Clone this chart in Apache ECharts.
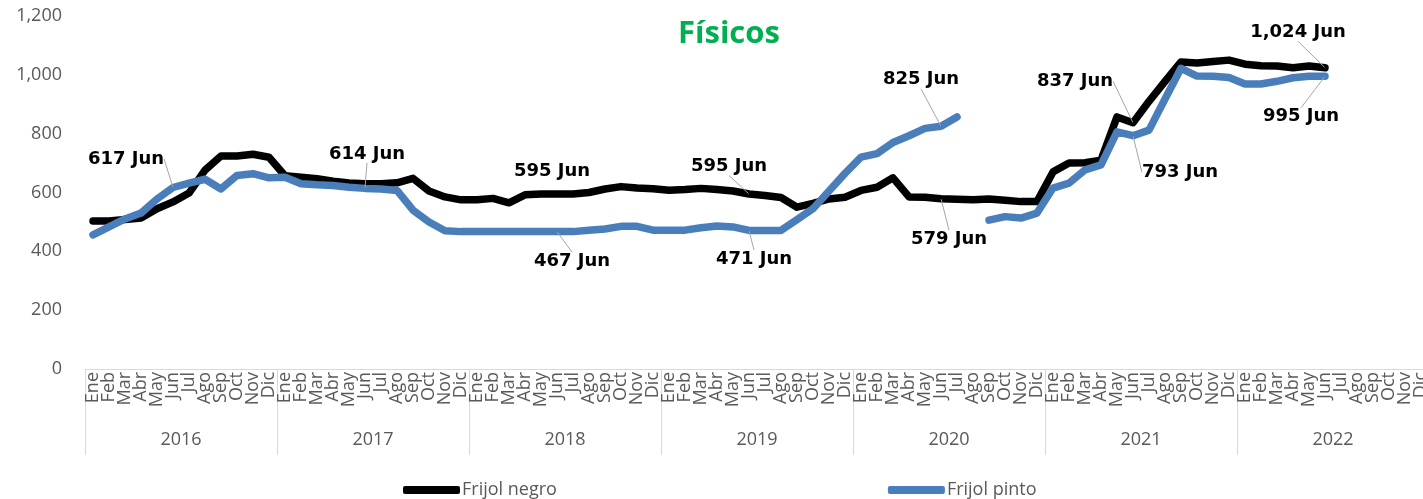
<!DOCTYPE html>
<html>
<head>
<meta charset="utf-8">
<script src="https://cdn.jsdelivr.net/npm/echarts@6/dist/echarts.min.js"></script>
<style>
  html, body { margin: 0; padding: 0; background: #fff; }
  #main { width: 1423px; height: 499px; }
</style>
</head>
<body>
<div id="main"></div>
<script>
var years = ['2016', '2017', '2018', '2019', '2020', '2021', '2022'];
var monthNames = ['Ene', 'Feb', 'Mar', 'Abr', 'May', 'Jun', 'Jul', 'Ago', 'Sep', 'Oct', 'Nov', 'Dic'];
var yTicks = [0, 200, 400, 600, 800, 1000, 1200];

// Frijol negro, monthly, Ene 2016 .. Dic 2022
var negro = [
  503, 503, 508, 513, 545, 568, 598, 676, 724, 724, 730, 720,
  657, 652, 647, 638, 632, 630, 630, 633, 648, 605, 585, 575,
  575, 580, 565, 592, 595, 595, 595, 600, 612, 620, 615, 613,
  608, 610, 614, 610, 605, 595, 590, 583, 550, 563, 578, 584,
  607, 618, 650, 585, 584, 579, 577, 575, 578, 574, 569, 569,
  670, 700, 701, 710, 857, 837, 910, 978, 1044, 1040, 1045, 1050,
  1036, 1031, 1030, 1024, 1030, 1024, null, null, null, null, null, null
];
// Frijol pinto
var pinto = [
  456, 483, 510, 530, 578, 617, 632, 645, 612, 658, 664, 650,
  652, 630, 626, 624, 618, 614, 612, 607, 540, 500, 470, 467,
  467, 467, 467, 467, 467, 467, 467, 472, 476, 485, 485, 472,
  472, 472, 480, 486, 483, 471, 471, 471, 508, 545, 605, 665,
  720, 732, 770, 793, 818, 825, 857, null, 506, 518, 513, 530,
  615, 632, 677, 694, 806, 793, 812, 918, 1022, 996, 995, 991,
  969, 969, 978, 990, 995, 995, null, null, null, null, null, null
];

// which points carry a "Jun" label: [label side, dx, dy, leader line]
var negroLabels = {
  29: ['top', -5, -8, false],
  41: ['top', -20, -13, true],
  53: ['bottom', 8, 26, true],
  65: ['top', -58, -27, true],
  77: ['top', -27, -21, true]
};
var pintoLabels = {
  5: ['top', -47, -14, true],
  17: ['top', 2, -20, true],
  29: ['bottom', 15, 15, true],
  41: ['bottom', 5, 14, true],
  53: ['top', -20, -32, true],
  65: ['bottom', 47, 22, true],
  77: ['bottom', -24, 26, true]
};

var months = [];
years.forEach(function () { months = months.concat(monthNames); });

function fmt(v) {
  return String(v).replace(/\B(?=(\d{3})+(?!\d))/g, ',');
}

function buildData(values, labels) {
  return values.map(function (v, i) {
    var l = labels[i];
    if (!l || v == null) return v;
    return {
      value: v,
      label: { show: true, position: l[0], formatter: fmt(v) + ' Jun' },
      labelLine: { show: l[3] }
    };
  });
}

function layoutFor(labels) {
  return function (params) {
    var l = labels[params.dataIndex];
    return l ? { dx: l[1], dy: l[2] } : {};
  };
}

var chart = echarts.init(document.getElementById('main'));

var labelStyle = {
  color: '#000',
  fontWeight: 'bold',
  fontSize: 18,
  fontFamily: 'DejaVu Sans'
};
var leader = { lineStyle: { color: '#a6a6a6', width: 1 } };

var option = {
  animation: false,
  backgroundColor: '#fff',
  title: {
    text: 'Físicos',
    left: 673,
    top: 14,
    textStyle: { color: '#00b050', fontSize: 31, fontWeight: 'bold', fontFamily: 'Open Sans' }
  },
  legend: {
    data: [
      { name: 'Frijol negro', icon: 'roundRect' },
      { name: 'Frijol pinto', icon: 'roundRect' }
    ],
    left: 398,
    top: 476,
    itemWidth: 57,
    itemHeight: 8,
    itemGap: 331,
    textStyle: { color: '#595959', fontSize: 18, fontFamily: 'Open Sans', padding: [0, 0, 0, -3] }
  },
  grid: {
    left: 85,
    top: 16,
    width: 1344,
    height: 353,
    containLabel: false,
    outerBoundsMode: 'none'
  },
  xAxis: [
    {
      type: 'category',
      data: months,
      boundaryGap: true,
      axisLine: { lineStyle: { color: '#d9d9d9', width: 1 } },
      axisTick: { show: false },
      axisLabel: {
        interval: 0,
        rotate: 90,
        margin: 3,
        color: '#595959',
        fontSize: 18,
        fontFamily: 'Open Sans'
      }
    },
    {
      type: 'category',
      data: years,
      position: 'bottom',
      boundaryGap: true,
      axisLine: { show: false },
      axisTick: { show: true, length: 86, interval: 0, lineStyle: { color: '#d9d9d9', width: 1 } },
      axisLabel: {
        interval: 0,
        margin: 62,
        color: '#595959',
        fontSize: 18,
        fontFamily: 'Open Sans'
      }
    }
  ],
  yAxis: {
    type: 'value',
    min: yTicks[0],
    max: yTicks[yTicks.length - 1],
    interval: 200,
    axisLine: { show: false },
    axisTick: { show: false },
    splitLine: { show: false },
    axisLabel: {
      margin: 23,
      color: '#595959',
      fontSize: 18,
      fontFamily: 'Open Sans',
      formatter: fmt
    }
  },
  series: [
    {
      name: 'Frijol negro',
      type: 'line',
      data: buildData(negro, negroLabels),
      color: '#000000',
      symbol: 'circle',
      symbolSize: 1,
      showSymbol: true,
      showAllSymbol: true,
      connectNulls: false,
      lineStyle: { width: 7.5, color: '#000000', cap: 'round', join: 'round' },
      label: labelStyle,
      labelLine: leader,
      labelLayout: layoutFor(negroLabels),
      z: 2
    },
    {
      name: 'Frijol pinto',
      type: 'line',
      data: buildData(pinto, pintoLabels),
      color: '#4a7ebb',
      symbol: 'circle',
      symbolSize: 1,
      showSymbol: true,
      showAllSymbol: true,
      connectNulls: false,
      lineStyle: { width: 7.5, color: '#4a7ebb', cap: 'round', join: 'round' },
      label: labelStyle,
      labelLine: leader,
      labelLayout: layoutFor(pintoLabels),
      z: 3
    }
  ]
};

chart.setOption(option);
</script>
</body>
</html>
